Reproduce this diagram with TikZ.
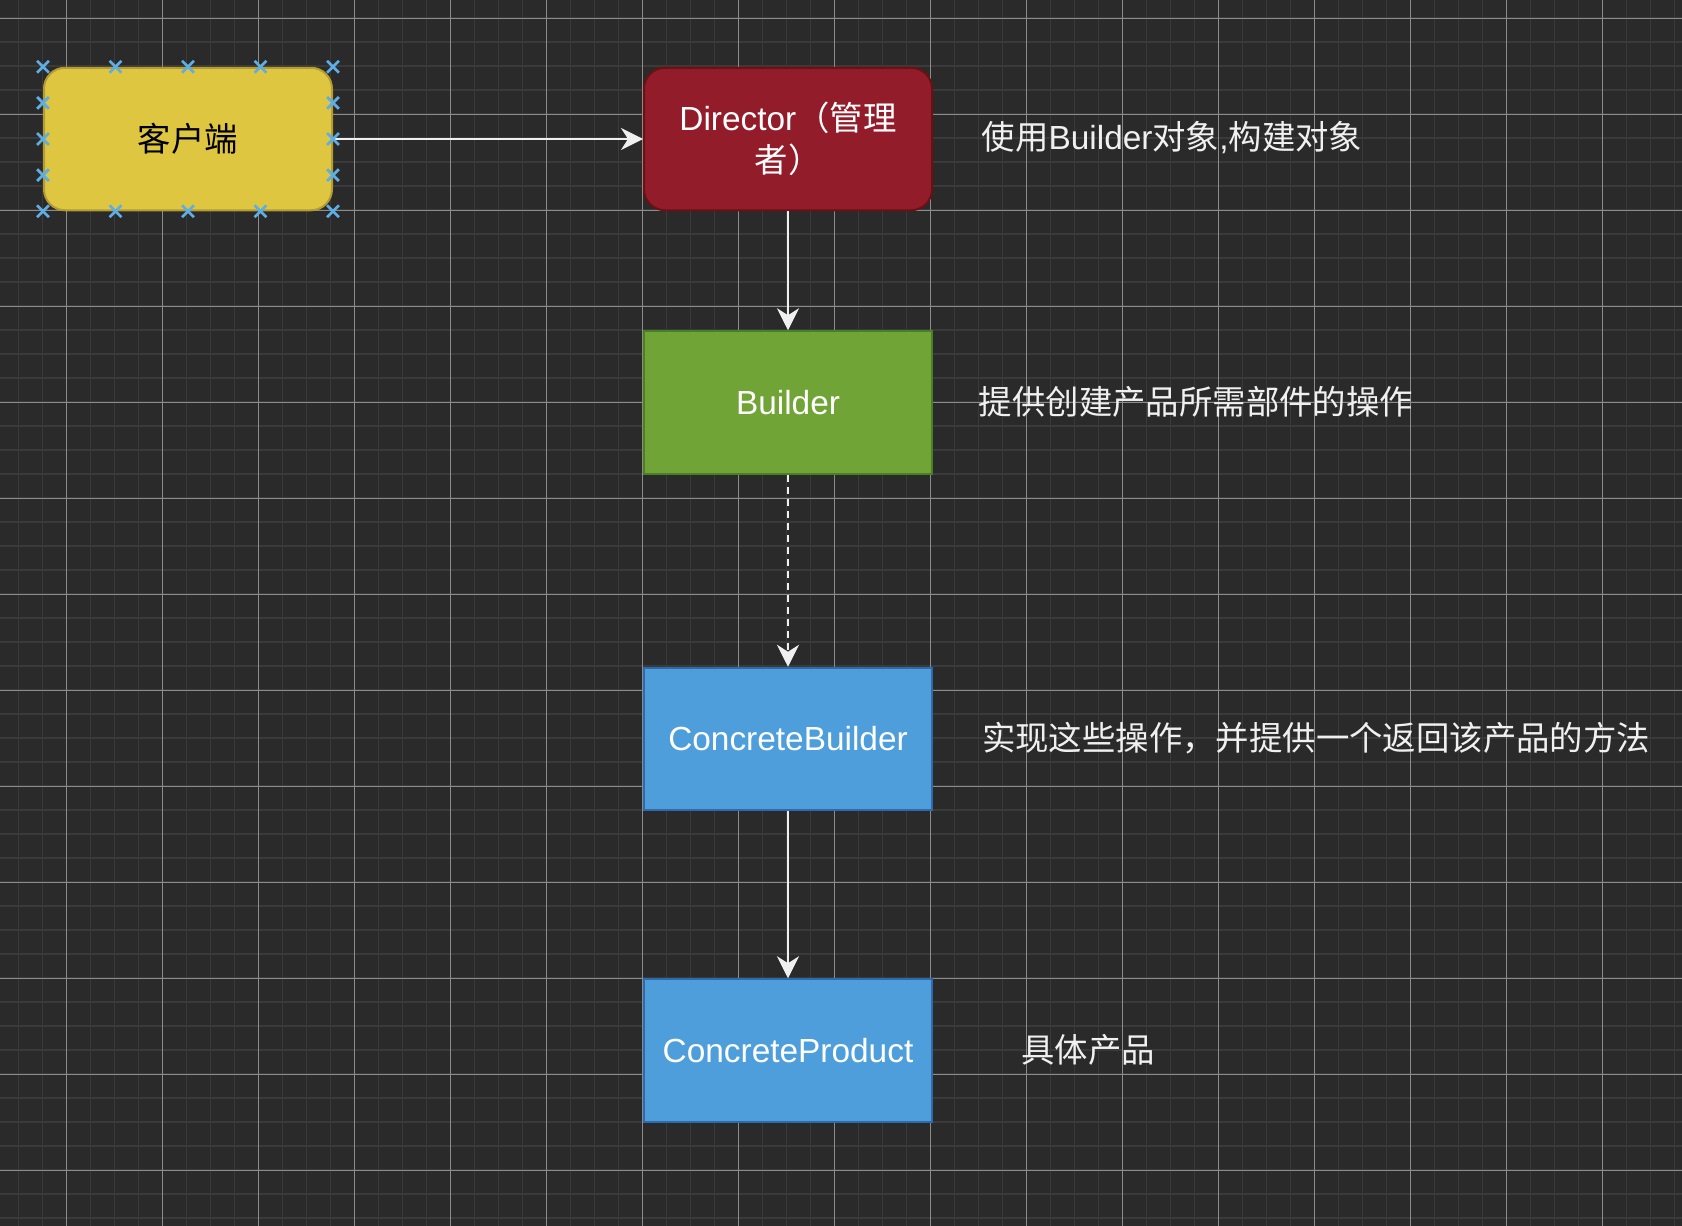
\documentclass[tikz,border=0pt]{standalone}
\usepackage{fontspec}
\setmainfont{Liberation Sans}
\newfontfamily\cjk{Noto Sans CJK SC}
\usetikzlibrary{arrows.meta,calc,shapes.misc}
\definecolor{bgc}{HTML}{2A2A2A}
\definecolor{minorc}{HTML}{3A3A3A}
\definecolor{majorc}{HTML}{8C8C8C}
\definecolor{yelf}{HTML}{DFC641}
\definecolor{yeld}{HTML}{B39C34}
\definecolor{redf}{HTML}{931C2A}
\definecolor{redd}{HTML}{6B1114}
\definecolor{grnf}{HTML}{71A436}
\definecolor{grnd}{HTML}{4B7F25}
\definecolor{bluf}{HTML}{4E9EDC}
\definecolor{blud}{HTML}{2D6BAE}
\definecolor{arrc}{HTML}{F0F0F0}
\definecolor{xblue}{HTML}{5EAEE4}
\newcommand\diagfont{\fontsize{33.4}{42}\selectfont}
\begin{document}
\begin{tikzpicture}[x=1pt,y=-1pt,
  box/.style={draw, line width=2pt, minimum width=288pt, minimum height=142.5pt,
    inner sep=0pt, text=white, font=\diagfont, align=center},
  rbox/.style={box, rounded corners=21pt},
  conn/.style={draw=arrc, line width=2pt, -{Stealth[length=22pt,width=22pt,inset=7pt]}},
  lbl/.style={text=arrc, font=\diagfont, inner sep=0pt},
  xmk/.style={cross out, draw=xblue, line width=2.8pt, minimum size=9pt, inner sep=0pt}
]
\useasboundingbox (0,0) rectangle (1682,1226);
\fill[bgc] (0,0) rectangle (1682,1226);
% grid
\foreach \k in {0,...,69} { \draw[minorc, line width=1.7pt] (18.4+24*\k,0) -- (18.4+24*\k,1226); }
\foreach \k in {0,...,50} { \draw[minorc, line width=1.7pt] (0,18.3+24*\k) -- (1682,18.3+24*\k); }
\foreach \k in {0,...,16} { \draw[majorc, line width=1pt] (66.4+96*\k,0) -- (66.4+96*\k,1226); }
\foreach \k in {0,...,12} { \draw[majorc, line width=1pt] (0,18.3+96*\k) -- (1682,18.3+96*\k); }

% nodes
\node[rbox, fill=yelf, draw=yeld, text=black] (client) at (188,139) {{\cjk 客户端}};
\node[rbox, fill=redf, draw=redd] (director) at (788,139) {Director{\cjk （管理}\\{\cjk 者）}};
\node[box, fill=grnf, draw=grnd] (builder) at (788,402.5) {Builder};
\node[box, fill=bluf, draw=blud] (cbuilder) at (788,739) {ConcreteBuilder};
\node[box, fill=bluf, draw=blud] (cproduct) at (788,1050.5) {ConcreteProduct};

% labels
\node[lbl] (l1) at (1172,138) {{\cjk 使用}Builder{\cjk 对象},{\cjk 构建对象}};
\node[lbl] (l2) at (1196,402) {{\cjk 提供创建产品所需部件的操作}};
\node[lbl] (l3) at (1316,738) {{\cjk 实现这些操作，并提供一个返回该产品的方法}};
\node[lbl] (l4) at (1088,1050) {{\cjk 具体产品}};

% connectors
\draw[conn] (client.east) -- (director.west);
\draw[conn] (director.south) -- (builder.north);
\draw[conn, dash pattern=on 7pt off 5pt] (builder.south) -- (cbuilder.north);
\draw[conn] (cbuilder.south) -- (cproduct.north);

% selection markers on client
\foreach \t in {0,0.25,0.5,0.75,1} {
  \node[xmk] at ($(client.north west)!\t!(client.north east)$) {};
  \node[xmk] at ($(client.south west)!\t!(client.south east)$) {};
}
\foreach \t in {0.25,0.5,0.75} {
  \node[xmk] at ($(client.north west)!\t!(client.south west)$) {};
  \node[xmk] at ($(client.north east)!\t!(client.south east)$) {};
}
\end{tikzpicture}
\end{document}
